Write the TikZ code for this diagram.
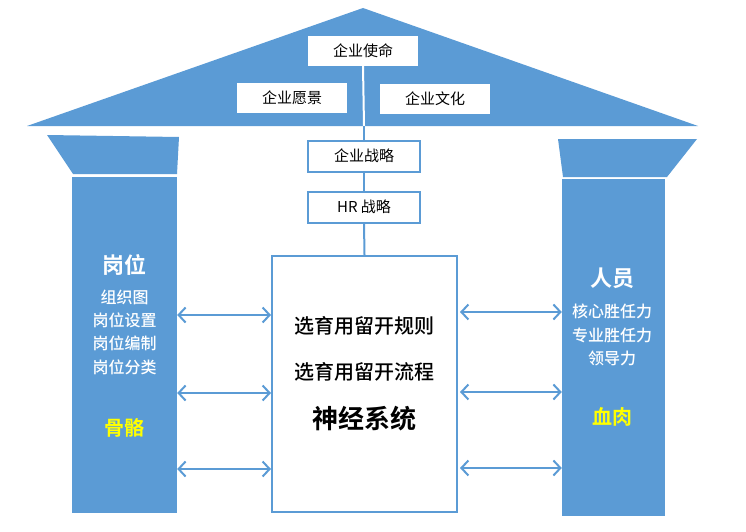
\documentclass[tikz,border=0pt]{standalone}
\usepackage{fontspec}
\setmainfont{Noto Sans CJK SC}[BoldFont={Noto Sans CJK SC Bold}]
\newfontfamily\cjkmed{Noto Sans CJK SC Medium}
\usetikzlibrary{arrows.meta}
\definecolor{hblue}{HTML}{5B9BD5}
\definecolor{hyellow}{HTML}{FFFF00}
\tikzset{
  roofbox/.style={fill=white, draw=none, minimum width=110pt, minimum height=30pt, inner sep=0pt, font=\fontsize{15}{18}\selectfont},
  stratbox/.style={fill=white, draw=hblue, line width=2pt, minimum width=112pt, minimum height=31pt, inner sep=0pt, font=\fontsize{15}{18}\selectfont},
  pillar/.style={fill=hblue, draw=none, inner sep=0pt},
  coltitle/.style={text=white, font=\fontsize{22}{26}\selectfont\bfseries},
  colitems/.style={text=white, align=center, font=\fontsize{16}{23.3}\selectfont\cjkmed},
  colyellow/.style={text=hyellow, font=\fontsize{20}{24}\selectfont\bfseries},
  link/.style={draw=hblue, line width=2pt},
  arr/.style={draw=hblue, line width=2.4pt, {Straight Barb[length=7pt,width=15pt,line width=2pt]}-{Straight Barb[length=7pt,width=15pt,line width=2pt]}},
  systext/.style={font=\fontsize{20}{24}\selectfont\cjkmed},
}
\begin{document}
\begin{tikzpicture}[x=1pt,y=-1pt]
\useasboundingbox (0,0) rectangle (746,532);
% roof
\fill[hblue] (27,126) -- (363,8) -- (698,126) -- cycle;
% capitals
\fill[hblue] (47,135) -- (179,137) -- (177,174) -- (73,174) -- cycle;
\fill[hblue] (558,139) -- (697,139) -- (667,177) -- (563,177) -- cycle;
% pillars
\node[pillar, minimum width=105pt, minimum height=336pt] (colL) at (124.5,345) {};
\node[pillar, minimum width=103pt, minimum height=337pt] (colR) at (613.5,347.5) {};
% roof boxes
\node[roofbox] (mission) at (363,51) {企业使命};
\node[roofbox] (vision) at (292,98) {企业愿景};
\node[roofbox] (culture) at (435,99) {企业文化};
% strategy boxes
\node[stratbox] (strat) at (364,156) {企业战略};
\node[stratbox] (hr) at (364,207) {HR 战略};
% system box
\node[draw=hblue, line width=2pt, minimum width=185pt, minimum height=256pt, inner sep=0pt] (sys) at (364.5,384) {};
\coordinate (roofbase) at (364,126);
\draw[white, line width=2pt] (mission.south) -- (roofbase);
\draw[link] (roofbase) -- (strat.north);
\draw[link] (strat.south) -- (hr.north);
\draw[link] (hr.south) -- (sys.north);
% system texts
\node[systext] (rule) at (364,326) {选育用留开规则};
\node[systext] (flow) at (364,372) {选育用留开流程};
\node[font=\fontsize{26}{30}\selectfont\bfseries] (nerve) at (364,419) {神经系统};
% left pillar texts
\node[coltitle] (gw) at (124.5,265) {岗位};
\node[colitems] (gwitems) at (124.5,332) {组织图\\岗位设置\\岗位编制\\岗位分类};
\node[colyellow] (bone) at (124.5,428) {骨骼};
% right pillar texts
\node[coltitle] (ry) at (612,278) {人员};
\node[colitems] (ryitems) at (612,335) {核心胜任力\\专业胜任力\\领导力};
\node[colyellow] (flesh) at (612,417) {血肉};
% arrows
\coordinate (l1) at (0,315);
\coordinate (l2) at (0,393);
\coordinate (l3) at (0,469);
\coordinate (r1) at (0,312);
\coordinate (r2) at (0,392);
\coordinate (r3) at (0,468);
\draw[arr] (colL.east |- l1) -- (sys.west |- l1);
\draw[arr] (colL.east |- l2) -- (sys.west |- l2);
\draw[arr] (colL.east |- l3) -- (sys.west |- l3);
\draw[arr] ([xshift=2pt]sys.east |- r1) -- (colR.west |- r1);
\draw[arr] ([xshift=2pt]sys.east |- r2) -- (colR.west |- r2);
\draw[arr] ([xshift=2pt]sys.east |- r3) -- (colR.west |- r3);
\end{tikzpicture}
\end{document}
